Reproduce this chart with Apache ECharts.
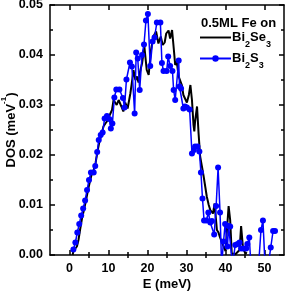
<!DOCTYPE html>
<html><head><meta charset="utf-8">
<script src="https://cdn.jsdelivr.net/npm/echarts@6/dist/echarts.min.js"></script>
<style>html,body{margin:0;padding:0;background:#fff}#c{width:285px;height:291px}</style>
</head><body><div id="c"></div>
<script>
// Bi2Se3 (black line)
var seE = [0.8,1.0,1.5,1.9,2.3,2.7,3.2,3.7,4.2,4.7,5.2,5.7,6.2,6.7,7.2,7.7,8.2,8.7,9.2,9.7,10.2,10.9,11.3,11.7,12.1,12.6,13.3,13.8,14.3,14.9,15.6,16.0,16.4,16.9,17.3,17.7,18.1,18.6,19.2,19.8,20.3,20.9,21.5,22.2,22.8,23.4,23.9,24.4,24.8,25.4,25.8,26.3,26.8,27.1,27.5,28.0,28.4,28.8,29.2,29.7,30.1,30.6,31.0,31.4,31.8,32.0,32.2,32.7,33.1,33.5,34.0,34.4,34.8,35.2,35.7,36.1,36.5,36.8,37.2,37.8,38.2,38.6,39.1,39.5,40.0,40.4,40.8,41.2,41.6,42.1,42.6,43.1,43.6,44.0,44.5,45.0,45.5];
var seDOS = [0.0000,0.0008,0.0012,0.0017,0.0030,0.0050,0.0073,0.0090,0.0108,0.0128,0.0146,0.0162,0.0170,0.0185,0.0208,0.0228,0.0240,0.0257,0.0263,0.0268,0.0278,0.0290,0.0310,0.0307,0.0300,0.0310,0.0297,0.0287,0.0305,0.0293,0.0323,0.0345,0.0370,0.0350,0.0357,0.0345,0.0367,0.0383,0.0417,0.0370,0.0360,0.0410,0.0437,0.0447,0.0423,0.0437,0.0420,0.0425,0.0443,0.0449,0.0433,0.0450,0.0407,0.0380,0.0387,0.0357,0.0355,0.0340,0.0320,0.0318,0.0305,0.0320,0.0340,0.0310,0.0260,0.0247,0.0267,0.0297,0.0243,0.0197,0.0175,0.0157,0.0137,0.0117,0.0100,0.0090,0.0088,0.0083,0.0103,0.0050,0.0045,0.0035,0.0025,0.0017,0.0008,0.0010,0.0098,0.0070,0.0003,0.0005,0.0002,0.0005,0.0010,0.0058,0.0013,0.0005,0.0003];
// Bi2S3 (blue line + dots)
var sE = [1.0,1.5,2.0,2.5,3.0,3.5,4.0,4.5,5.0,5.5,6.2,6.6,7.1,7.5,8.0,8.5,9.0,9.6,10.2,10.6,11.0,11.5,12.0,12.8,13.7,14.1,14.6,15.5,16.0,16.7,17.1,17.5,18.0,18.6,19.1,19.6,20.1,20.7,21.3,21.8,22.4,23.3,23.7,24.1,24.9,25.3,25.8,26.4,26.7,27.1,28.0,28.2,28.6,29.2,29.6,30.1,30.8,31.4,31.9,32.2,32.8,33.3,33.7,34.1,34.5,35.1,35.6,36.1,36.5,37.1,37.6,38.1,38.6,39.0,39.5,39.9,40.5,40.8,41.2,41.8,42.5,43.1,43.6,44.0,44.6,45.3,45.6,46.1,46.6,47.2,47.8,48.4,49.1,49.6,50.2,50.8,51.6,52.2,52.7];
var sDOS = [0.0011,0.0025,0.0045,0.0062,0.0079,0.0093,0.0109,0.0130,0.0150,0.0165,0.0165,0.0178,0.0206,0.0230,0.0240,0.0245,0.0273,0.0278,0.0272,0.0253,0.0263,0.0315,0.0331,0.0331,0.0314,0.0295,0.0351,0.0385,0.0377,0.0283,0.0405,0.0393,0.0330,0.0400,0.0421,0.0469,0.0482,0.0378,0.0427,0.0435,0.0465,0.0465,0.0384,0.0368,0.0368,0.0397,0.0378,0.0368,0.0330,0.0310,0.0389,0.0337,0.0333,0.0293,0.0297,0.0295,0.0291,0.0203,0.0210,0.0217,0.0217,0.0207,0.0165,0.0113,0.0069,0.0069,0.0085,0.0065,0.0068,0.0041,0.0098,0.0175,0.0085,-0.0020,0.0027,0.0062,0.0017,0.0058,0.0057,-0.0020,0.0020,0.0022,0.0025,0.0013,0.0013,0.0013,0.0022,0.0035,-0.0030,-0.0030,-0.0030,-0.0030,0.0050,0.0069,-0.0030,-0.0030,0.0015,0.0048,0.0048];
var xMajor = [0,10,20,30,40,50];
var xMinor = [5,15,25,35,45];
var seriesNames = ['Bi2Se3','Bi2S3'];
var titleText = '0.5ML Fe on';

function zip(a,b){return a.map(function(v,i){return [v,b[i]];});}
var F = 'Liberation Sans, Arial, sans-serif';
var lineSt = {color:'#000', width:1.5};
var chart = echarts.init(document.getElementById('c'), null, {renderer:'canvas'});
chart.setOption({
  animation:false,
  backgroundColor:'#fff',
  title:{text:titleText, left:201, top:17, padding:0, textStyle:{fontFamily:F, fontSize:13, fontWeight:'bold', color:'#000'}},
  legend:{
    orient:'vertical', left:199, top:31, padding:0, itemWidth:31, itemHeight:8, itemGap:3,
    data:[{name:seriesNames[0], icon:'path://M0,0L32,0L32,2L0,2Z'}, {name:seriesNames[1]}],
    formatter:function(n){return n==='Bi2Se3'?'{n|Bi}{s|2}{n|Se}{s|3}':'{n|Bi}{s|2}{n|S}{s|3}';},
    textStyle:{fontFamily:F, fontSize:13, fontWeight:'bold', color:'#000', padding:[0,0,0,-4],
      rich:{n:{fontFamily:F,fontSize:13,fontWeight:'bold',color:'#000'},
            s:{fontFamily:F,fontSize:9,fontWeight:'bold',color:'#000',verticalAlign:'bottom',padding:[0,0,-5,0]}}}
  },
  grid:{left:50, right:1, top:5, bottom:36, outerBoundsMode:'none', containLabel:false},
  xAxis:[
    {type:'value', position:'bottom', min:-5, max:55,
     name:'E (meV)', nameLocation:'middle', nameGap:23, nameMoveOverlap:false,
     nameTextStyle:{fontFamily:F, fontSize:13, fontWeight:'bold', color:'#000'},
     axisLine:{show:true, onZero:false, lineStyle:lineSt},
     axisTick:{show:true, inside:true, length:5, customValues:xMajor, lineStyle:lineSt},
     axisLabel:{customValues:xMajor, fontFamily:F, fontSize:12.5, fontWeight:'bold', color:'#000', margin:7},
     splitLine:{show:false}},
    {type:'value', position:'bottom', min:-5, max:55, gridIndex:0,
     axisLine:{show:false}, axisLabel:{show:false}, splitLine:{show:false},
     axisTick:{show:true, inside:true, length:3, customValues:xMinor, lineStyle:lineSt}},
    {type:'value', position:'top', min:-5, max:55,
     axisLine:{show:true, onZero:false, lineStyle:lineSt}, axisLabel:{show:false}, splitLine:{show:false},
     axisTick:{show:true, inside:true, length:5, customValues:xMajor, lineStyle:lineSt}},
    {type:'value', position:'top', min:-5, max:55,
     axisLine:{show:false}, axisLabel:{show:false}, splitLine:{show:false},
     axisTick:{show:true, inside:true, length:3, customValues:xMinor, lineStyle:lineSt}}
  ],
  yAxis:[
    {type:'value', position:'left', min:0, max:0.05, interval:0.01,
     name:'{a|DOS (meV}{b|-1}{a|)}', nameLocation:'middle', nameGap:32, nameRotate:90, nameMoveOverlap:false,
     nameTextStyle:{fontFamily:F, fontSize:13, fontWeight:'bold', color:'#000',
       rich:{a:{fontFamily:F,fontSize:13,fontWeight:'bold',color:'#000'},
             b:{fontFamily:F,fontSize:8,fontWeight:'bold',color:'#000',verticalAlign:'top',padding:[-5,0,0,0]}}},
     axisLine:{show:true, onZero:false, lineStyle:lineSt},
     axisTick:{show:true, inside:true, length:5, lineStyle:lineSt},
     minorTick:{show:true, splitNumber:2, length:3, lineStyle:lineSt},
     axisLabel:{formatter:function(v){return v.toFixed(2);}, fontFamily:F, fontSize:12.5, fontWeight:'bold', color:'#000', margin:7},
     splitLine:{show:false}},
    {type:'value', position:'right', min:0, max:0.05, interval:0.01,
     axisLine:{show:true, onZero:false, lineStyle:lineSt},
     axisTick:{show:true, inside:true, length:5, lineStyle:lineSt},
     minorTick:{show:true, splitNumber:2, length:3, lineStyle:lineSt},
     axisLabel:{show:false}, splitLine:{show:false}}
  ],
  series:[
    {name:'Bi2Se3', type:'line', xAxisIndex:0, yAxisIndex:0, data:zip(seE,seDOS),
     symbol:'none', lineStyle:{color:'#000', width:2}, itemStyle:{color:'#000'}, z:2},
    {name:'Bi2S3', type:'line', xAxisIndex:0, yAxisIndex:0, data:zip(sE,sDOS),
     symbol:'circle', symbolSize:6, showSymbol:true,
     lineStyle:{color:'#0000ff', width:1.5}, itemStyle:{color:'#0000ff'}, z:3}
  ]
});
</script></body></html>
